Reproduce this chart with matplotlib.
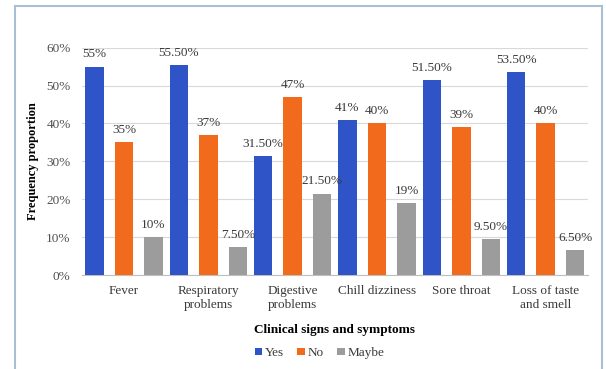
import numpy as np
import matplotlib

matplotlib.use("Agg")
import matplotlib.pyplot as plt
from matplotlib.patches import Rectangle
from matplotlib.ticker import PercentFormatter

categories = ["Fever", "Respiratory\nproblems", "Digestive\nproblems",
              "Chill dizziness", "Sore throat", "Loss of taste\nand smell"]
yes = [55, 55.5, 31.5, 41, 51.5, 53.5]
no = [35, 37, 47, 40, 39, 40]
maybe = [10, 7.5, 21.5, 19, 9.5, 6.5]
yes_labels = ["55%", "55.50%", "31.50%", "41%", "51.50%", "53.50%"]
no_labels = ["35%", "37%", "47%", "40%", "39%", "40%"]
maybe_labels = ["10%", "7.50%", "21.50%", "19%", "9.50%", "6.50%"]

plt.rcParams["font.family"] = ["Liberation Serif", "DejaVu Serif"]

fig = plt.figure(figsize=(6.06, 3.69), dpi=100)
ax = fig.add_axes([0.135, 0.2547, 0.835, 0.6163])

# outer chart frame
fig.patches.append(Rectangle((0.025, -0.02), 0.968, 1.004, transform=fig.transFigure,
                             fill=False, edgecolor="#a9bfd6", linewidth=1.5))

x = np.arange(len(categories))
w = 0.22
off = 0.35
series = [
    (yes, yes_labels, "#2f54c8", "Yes", -off),
    (no, no_labels, "#f26a1b", "No", 0),
    (maybe, maybe_labels, "#9c9c9c", "Maybe", off),
]
for vals, labs, color, name, dx in series:
    bars = ax.bar(x + dx, vals, w, color=color, label=name, zorder=3)
    for b, lab in zip(bars, labs):
        ax.text(b.get_x() + b.get_width() / 2, b.get_height() + 1.6, lab,
                ha="center", va="bottom", fontsize=9.5, color="#3a3a3a")

ax.set_xlim(-0.5, len(categories) - 0.5)
ax.set_ylim(0, 60)
ax.set_yticks(np.arange(0, 61, 10))
ax.yaxis.set_major_formatter(PercentFormatter(decimals=0))
ax.set_xticks(x)
ax.set_xticklabels(categories, fontsize=9.5, color="#3a3a3a", linespacing=1.3)
ax.tick_params(axis="y", labelsize=9.5, labelcolor="#505050", length=0, pad=8)
ax.tick_params(axis="x", length=0, pad=7)
ax.grid(axis="y", color="#d9d9d9", linewidth=0.8, zorder=0)
for s in ["top", "right", "left"]:
    ax.spines[s].set_visible(False)
ax.spines["bottom"].set_color("#bfbfbf")

ax.set_ylabel("Frequency proportion", fontsize=9, fontweight="bold", labelpad=5)
ax.set_xlabel("Clinical signs and symptoms", fontsize=9.5, fontweight="bold", labelpad=9)

ax.legend(loc="upper center", bbox_to_anchor=(0.47, -0.265), ncol=3, frameon=False,
          fontsize=9.5, handlelength=0.55, handleheight=0.55, handletextpad=0.25,
          columnspacing=1.0, labelcolor="#3a3a3a")

fig.savefig("out.png", dpi=100)
